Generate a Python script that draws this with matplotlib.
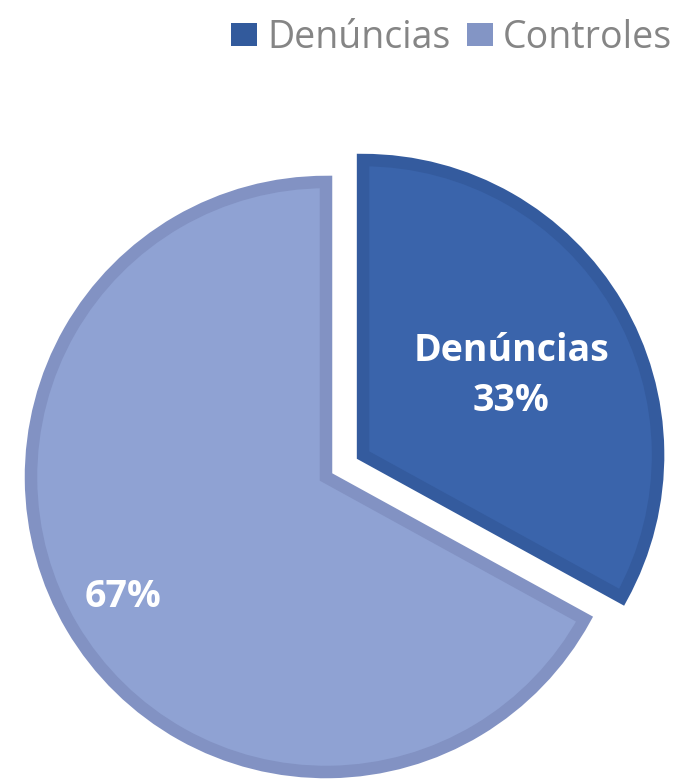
import numpy as np
import matplotlib.pyplot as plt
from matplotlib.patches import Patch

categories = ["Denúncias", "Controles"]
values = [33, 67]
fill_colors = ["#3A64AB", "#8FA2D3"]
edge_colors = ["#345B9E", "#8292C3"]
explode = [0.146, 0.0]
label_dist = [0.57, 0.80]
label_turn = [-2.5, 0.0]   # degrees, nudge off the wedge's middle angle
show_name = [True, False]

R_PX = 295.0          # pie radius in pixels
CX, CY = 326.0, 477.0  # pie centre in pixels (from top-left)
W, H = 674, 779

fig = plt.figure(figsize=(W / 100, H / 100), dpi=100)
ax = fig.add_axes([0, 0, 1, 1])

wedges, _ = ax.pie(
    values,
    explode=explode,
    colors=fill_colors,
    startangle=90,
    counterclock=False,
    wedgeprops=dict(linewidth=9, joinstyle="miter"),
)
for w, ec in zip(wedges, edge_colors):
    w.set_edgecolor(ec)

# put the labels inside each wedge, along its middle angle
total = sum(values)
for w, name, v, d, turn, named in zip(wedges, categories, values, label_dist,
                                      label_turn, show_name):
    mid = np.deg2rad((w.theta1 + w.theta2) / 2 + turn)
    cx, cy = w.center
    x = cx + d * w.r * np.cos(mid)
    y = cy + d * w.r * np.sin(mid)
    pct = f"{100 * v / total:.0f}%"
    txt = f"{name}\n{pct}" if named else pct
    ax.text(x, y, txt, ha="center", va="center", color="white",
            fontsize=27, fontweight="bold", family="Open Sans",
            linespacing=1.42)

ax.set_aspect("auto")
ax.set_xlim(-CX / R_PX, (W - CX) / R_PX)
ax.set_ylim(-(H - CY) / R_PX, CY / R_PX)
ax.axis("off")

handles = [Patch(facecolor=c, edgecolor="none") for c in ["#325A9C", "#8395C5"]]
fig.legend(
    handles, categories,
    loc="center right",
    bbox_to_anchor=(672 / W, 1 - 38 / H),
    ncol=2, frameon=False,
    prop={"family": "Open Sans", "size": 27},
    labelcolor="#858585",
    handlelength=0.7, handleheight=0.56,
    handletextpad=0.27, columnspacing=0.43,
    borderpad=0, borderaxespad=0,
)

fig.savefig("out.png", dpi=100)
